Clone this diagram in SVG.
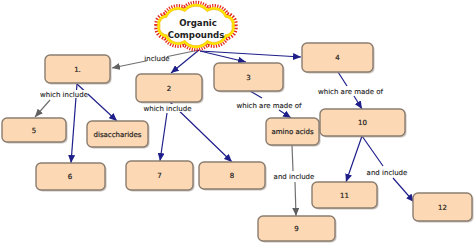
<svg xmlns="http://www.w3.org/2000/svg" width="474" height="244" viewBox="0 0 474 244">
<style>
.box{fill:#fdd8b4;stroke:#8a7d70;stroke-width:1.4}
.sh{fill:#9a9088;opacity:0.55}
.t{font-family:"DejaVu Sans",Verdana,sans-serif;font-size:7px;fill:#1e1e1e;stroke:#1e1e1e;stroke-width:0.2;text-anchor:middle}
.lb{font-family:"DejaVu Sans",Verdana,sans-serif;font-size:7px;fill:#222;stroke:#222;stroke-width:0.12;text-anchor:middle}
.bg{fill:#fff}
.nv{stroke:#1f1f8a;stroke-width:1.2;fill:none}
.gy{stroke:#707070;stroke-width:1.2;fill:none}
.ct{font-family:"DejaVu Sans",Verdana,sans-serif;font-size:8.6px;font-weight:bold;fill:#222;text-anchor:middle}
</style>
<defs>
<marker id="an" markerUnits="userSpaceOnUse" markerWidth="8" markerHeight="7" refX="8" refY="3.5" orient="auto"><path d="M0,0 L8,3.5 L0,7 z" fill="#1f1f8a"/></marker>
<marker id="ag" markerUnits="userSpaceOnUse" markerWidth="8" markerHeight="7" refX="8" refY="3.5" orient="auto"><path d="M0,0 L8,3.5 L0,7 z" fill="#606060"/></marker>
<path id="cloud" d="M232,26 A7,7 0 0 1 225.1,34.8 A12,12 0 0 1 207.1,40.3 A14,14 0 0 1 184.9,40.3 A12,12 0 0 1 166.9,34.8 A7,7 0 0 1 160,26 A7,7 0 0 1 166.9,17.2 A12,12 0 0 1 184.9,11.7 A14,14 0 0 1 207.1,11.7 A12,12 0 0 1 225.1,17.2 A7,7 0 0 1 232,26 Z"/>
</defs>

<g id="connectors">
<line class="gy" x1="199" y1="50" x2="112" y2="68" marker-end="url(#ag)"/>
<line class="nv" x1="199" y1="50" x2="171" y2="73" marker-end="url(#an)"/>
<line class="nv" x1="200" y1="51" x2="246" y2="62" marker-end="url(#an)"/>
<line class="nv" x1="200" y1="51" x2="301" y2="57" marker-end="url(#an)"/>
<line class="gy" x1="50" y1="100" x2="35" y2="117" marker-end="url(#ag)"/>
<line class="nv" x1="77" y1="84" x2="117" y2="121" marker-end="url(#an)"/>
<line class="nv" x1="77" y1="84" x2="71" y2="163" stroke-width="1" marker-end="url(#an)"/>
<line class="nv" x1="170" y1="102" x2="232" y2="162" marker-end="url(#an)"/>
<line class="nv" x1="167" y1="113" x2="160" y2="161" marker-end="url(#an)"/>
<line class="nv" x1="250" y1="91" x2="262" y2="98"/>
<line class="nv" x1="279" y1="110" x2="291" y2="118" marker-end="url(#an)"/>
<line class="nv" x1="338" y1="72" x2="347" y2="86"/>
<line class="nv" x1="354" y1="96" x2="362" y2="109" marker-end="url(#an)"/>
<line class="nv" x1="362" y1="136" x2="346" y2="182" marker-end="url(#an)"/>
<line class="nv" x1="362" y1="136" x2="383" y2="166"/>
<line class="nv" x1="393" y1="178" x2="414" y2="202" marker-end="url(#an)"/>
<line class="gy" x1="292" y1="145" x2="293" y2="171"/>
<line class="gy" x1="295" y1="182" x2="296" y2="216" marker-end="url(#ag)"/>
</g>

<g id="labels">
<rect class="bg" x="147" y="56" width="20" height="6"/>
<text x="157" y="60.5" class="lb" font-size="5">include</text>
<rect class="bg" x="40" y="90" width="48" height="8"/>
<text x="64" y="96.5" class="lb">which include</text>
<rect class="bg" x="143" y="104" width="49" height="8"/>
<text x="167.5" y="110.5" class="lb">which include</text>
<rect class="bg" x="236" y="101" width="66" height="8"/>
<text x="269" y="107.5" class="lb">which are made of</text>
<rect class="bg" x="318" y="87" width="66" height="8"/>
<text x="350.5" y="93.5" class="lb">which are made of</text>
<rect class="bg" x="273" y="172" width="42" height="8"/>
<text x="294" y="178.5" class="lb">and include</text>
<rect class="bg" x="369" y="168" width="36" height="8"/>
<text x="387" y="174.5" class="lb" font-size="6">and include</text>
</g>

<g id="organic-compounds">
<use href="#cloud" fill="none" stroke="#e5261c" stroke-width="11" stroke-dasharray="0.9 1"/>
<use href="#cloud" fill="none" stroke="#ffe400" stroke-width="5"/>
<use href="#cloud" fill="#fff" stroke="#f2b400" stroke-width="0.6"/>
<text x="198" y="26" class="ct">Organic</text>
<text x="196" y="37.5" class="ct">Compounds</text>
</g>

<g id="n1"><rect class="sh" x="46.5" y="56.5" width="65" height="28" rx="5"/><rect class="box" x="45" y="55" width="65" height="28" rx="5"/><text class="t" x="77.5" y="71.5">1.</text></g>
<g id="n5"><rect class="sh" x="3.5" y="119.5" width="64" height="24" rx="5"/><rect class="box" x="2" y="118" width="64" height="24" rx="5"/><text class="t" x="34" y="132.5">5</text></g>
<g id="ndisaccharides"><rect class="sh" x="88.5" y="122.5" width="61" height="26" rx="5"/><rect class="box" x="87" y="121" width="61" height="26" rx="5"/><text class="t" x="117.5" y="136.5">disaccharides</text></g>
<g id="n6"><rect class="sh" x="37.5" y="164.5" width="69" height="27" rx="5"/><rect class="box" x="36" y="163" width="69" height="27" rx="5"/><text class="t" x="70" y="179">6</text></g>
<g id="n2"><rect class="sh" x="137.5" y="75.5" width="66" height="28" rx="5"/><rect class="box" x="136" y="74" width="66" height="28" rx="5"/><text class="t" x="169" y="90.5">2</text></g>
<g id="n3"><rect class="sh" x="215.5" y="64.5" width="69" height="28" rx="5"/><rect class="box" x="214" y="63" width="69" height="28" rx="5"/><text class="t" x="248.5" y="79.5">3</text></g>
<g id="n4"><rect class="sh" x="303.5" y="44.5" width="71" height="29" rx="5"/><rect class="box" x="302" y="43" width="71" height="29" rx="5"/><text class="t" x="337.5" y="60">4</text></g>
<g id="n10"><rect class="sh" x="321.5" y="110.5" width="85" height="27" rx="5"/><rect class="box" x="320" y="109" width="85" height="27" rx="5"/><text class="t" x="362.5" y="125">10</text></g>
<g id="namino"><rect class="sh" x="267.5" y="119.5" width="53" height="27" rx="5"/><rect class="box" x="266" y="118" width="53" height="27" rx="5"/><text class="t" x="292.5" y="134">amino acids</text></g>
<g id="n7"><rect class="sh" x="127.5" y="162.5" width="67" height="29" rx="5"/><rect class="box" x="126" y="161" width="67" height="29" rx="5"/><text class="t" x="159.5" y="177.5">7</text></g>
<g id="n8"><rect class="sh" x="200.5" y="163.5" width="66" height="27" rx="5"/><rect class="box" x="199" y="162" width="66" height="27" rx="5"/><text class="t" x="232" y="178">8</text></g>
<g id="n9"><rect class="sh" x="259.5" y="217.5" width="77" height="25" rx="5"/><rect class="box" x="258" y="216" width="77" height="25" rx="5"/><text class="t" x="296.5" y="231">9</text></g>
<g id="n11"><rect class="sh" x="313.5" y="183.5" width="65" height="26" rx="5"/><rect class="box" x="312" y="182" width="65" height="26" rx="5"/><text class="t" x="344.5" y="197.5">11</text></g>
<g id="n12"><rect class="sh" x="414.5" y="194.5" width="59" height="28" rx="5"/><rect class="box" x="413" y="193" width="59" height="28" rx="5"/><text class="t" x="442.5" y="209.5">12</text></g>
</svg>
